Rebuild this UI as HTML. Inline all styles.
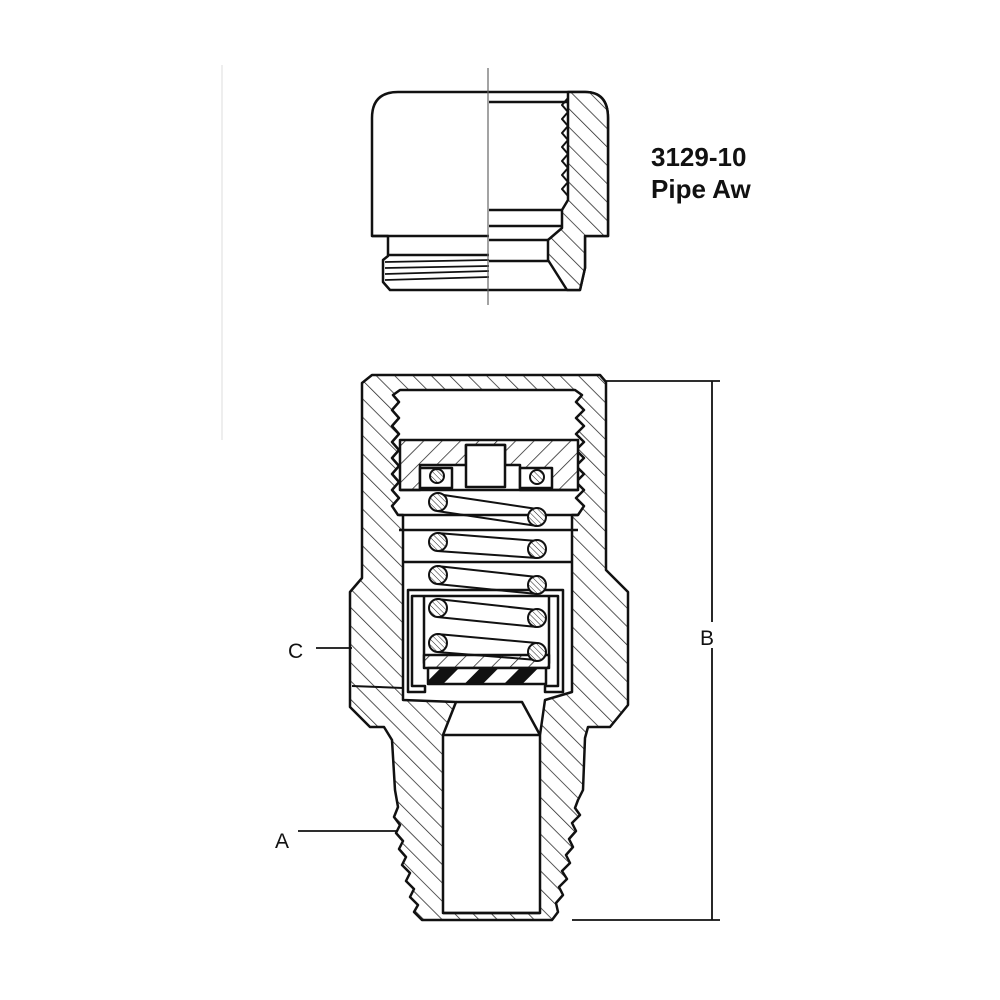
<!DOCTYPE html>
<html><head><meta charset="utf-8"><style>
html,body{margin:0;padding:0;background:#fff;}
svg{display:block}
text{font-family:"Liberation Sans",Arial,sans-serif;fill:#111}
</style></head><body>
<svg width="1000" height="1000" viewBox="0 0 1000 1000" xmlns="http://www.w3.org/2000/svg">
<defs>
<pattern id="h" patternUnits="userSpaceOnUse" width="13" height="13" patternTransform="rotate(45)">
<rect width="13" height="13" fill="#fff"/><line x1="0" y1="0" x2="0" y2="13" stroke="#222" stroke-width="1.5"/>
</pattern>
<pattern id="h2" patternUnits="userSpaceOnUse" width="13" height="13" patternTransform="rotate(-45)">
<rect width="13" height="13" fill="#fff"/><line x1="0" y1="0" x2="0" y2="13" stroke="#222" stroke-width="1.5"/>
</pattern>
<pattern id="hc" patternUnits="userSpaceOnUse" width="4" height="4" patternTransform="rotate(-45)">
<rect width="4" height="4" fill="#fff"/><line x1="0" y1="0" x2="0" y2="4" stroke="#222" stroke-width="1"/>
</pattern>
<pattern id="rub" patternUnits="userSpaceOnUse" width="28" height="28" patternTransform="rotate(45)">
<rect width="28" height="28" fill="#fff"/><rect width="13" height="28" fill="#111"/>
</pattern>
</defs>
<g stroke="#111" stroke-width="2.5" fill="none" stroke-linejoin="round">

<line x1="222" y1="65" x2="222" y2="440" stroke="#ddd" stroke-width="1"/>

<!-- CAP -->
<path d="M372,118 Q372,92 398,92 L585,92 Q608,92 608,118 L608,236 L585,236 L585,268 L580,290 L390,290 L383,282 L383,260 L388,256 L388,236 L372,236 Z" fill="#fff"/>
<path d="M568,92 L585,92 Q608,92 608,118 L608,236 L585,236 L585,268 L580,290 L567,290 L548,260 L548,240 L562,228 L562,210 L568,200 Z" fill="url(#h2)"/>
<path d="M568,98 L562,105 L568,112 L562,119 L568,126 L562,133 L568,140 L562,147 L568,154 L562,161 L568,168 L562,175 L568,182 L562,189 L568,196" stroke-width="2"/>
<line x1="489" y1="102" x2="568" y2="102"/>
<line x1="489" y1="210" x2="562" y2="210"/>
<line x1="489" y1="226" x2="562" y2="226"/>
<line x1="489" y1="240" x2="548" y2="240"/>
<line x1="489" y1="261" x2="548" y2="261"/>
<line x1="372" y1="236" x2="489" y2="236"/>
<line x1="388" y1="255" x2="489" y2="255"/>
<path d="M385,262 L489,260 M385,268 L489,266 M385,274 L489,271 M385,280 L489,277" stroke-width="1.8"/>
<line x1="488" y1="68" x2="488" y2="305" stroke="#666" stroke-width="1.2"/>

<!-- BODY -->
<path d="M372,375 L600,375 L606,382 L606,570 L628,592 L628,705 L610,727 L588,727 L585,738 L583,790 L578,800 L575,808 L580,815 L572,823 L576,831 L569,839 L573,847 L566,855 L570,863 L562,871 L567,879 L559,887 L563,895 L556,903 L558,912 L552,920 L422,920 L414,912 L418,905 L410,897 L414,889 L406,881 L410,873 L402,865 L406,857 L399,849 L403,841 L396,833 L400,825 L394,817 L398,807 L395,790 L392,740 L384,727 L370,727 L350,707 L350,592 L362,578 L362,383 Z" fill="url(#h2)"/>
<path d="M400,390 L575,390 L582,395 L576,402 L584,410 L576,418 L584,426 L576,434 L584,442 L576,450 L584,458 L576,466 L584,474 L576,482 L584,490 L576,498 L584,506 L578,515 L572,515 L572,692 L545,700 L540,735 L540,913 L443,913 L443,735 L456,702 L403,700 L403,515 L398,515 L392,506 L399,498 L392,490 L399,482 L392,474 L399,466 L392,458 L399,450 L392,442 L399,434 L392,426 L399,418 L392,410 L399,402 L393,395 Z" fill="#fff"/>
<path d="M443,735 L540,735 M456,702 L522,702 L540,735" />
<line x1="443" y1="913" x2="540" y2="913"/>
<line x1="399" y1="530" x2="578" y2="530"/>
<line x1="403" y1="562" x2="572" y2="562"/>

<!-- top plug -->
<path d="M400,440 L578,440 L578,490 L520,490 L520,465 L505,465 L505,445 L466,445 L466,465 L420,465 L420,490 L400,490 Z" fill="url(#h)"/>
<rect x="466" y="445" width="39" height="42" fill="#fff"/>
<rect x="420" y="468" width="32" height="20" fill="#fff"/>
<rect x="520" y="468" width="32" height="20" fill="#fff"/>
<line x1="400" y1="490" x2="578" y2="490"/>
<line x1="399" y1="515" x2="578" y2="515"/>

<!-- cup -->
<path d="M408,590 L563,590 L563,692 L545,692 L545,686 L558,686 L558,596 L412,596 L412,686 L425,686 L425,692 L408,692 Z" fill="#fff"/>
<path d="M424,596 L424,663 L549,663 L549,596" />
<rect x="424" y="655" width="125" height="13" fill="url(#h)"/>
<rect x="428" y="668" width="118" height="16" fill="url(#rub)"/>
<line x1="352" y1="686" x2="403" y2="688" stroke-width="2"/>

<!-- spring -->
<g stroke-width="2">
<path d="M437,494 L537,509 M437,511 L537,526 M437,533 L537,541 M437,551 L537,558 M437,566 L537,577 M437,584 L537,594 M437,599 L537,610 M437,617 L537,627 M437,634 L537,643 M437,652 L537,660"/>
</g>
<g fill="url(#hc)" stroke-width="2">
<circle cx="438" cy="502" r="9"/><circle cx="537" cy="517" r="9"/>
<circle cx="438" cy="542" r="9"/><circle cx="537" cy="549" r="9"/>
<circle cx="438" cy="575" r="9"/><circle cx="537" cy="585" r="9"/>
<circle cx="438" cy="608" r="9"/><circle cx="537" cy="618" r="9"/>
<circle cx="438" cy="643" r="9"/><circle cx="537" cy="652" r="9"/>
<circle cx="437" cy="476" r="7"/><circle cx="537" cy="477" r="7"/>
</g>

<g stroke-width="1.8">
<line x1="606" y1="381" x2="720" y2="381"/>
<line x1="572" y1="920" x2="720" y2="920"/>
<line x1="712" y1="381" x2="712" y2="920"/>
<line x1="316" y1="648" x2="352" y2="648"/>
<line x1="298" y1="831" x2="398" y2="831"/>
</g>
</g>
<rect x="700" y="622" width="24" height="26" fill="#fff"/>
<text x="700" y="645" font-size="21">B</text>
<text x="288" y="658" font-size="21">C</text>
<text x="275" y="848" font-size="21">A</text>
<text x="651" y="166" font-size="26" font-weight="bold" style="font-weight:600">3129-10</text>
<text x="651" y="198" font-size="26" style="font-weight:600">Pipe Aw</text>
</svg>
</body></html>
